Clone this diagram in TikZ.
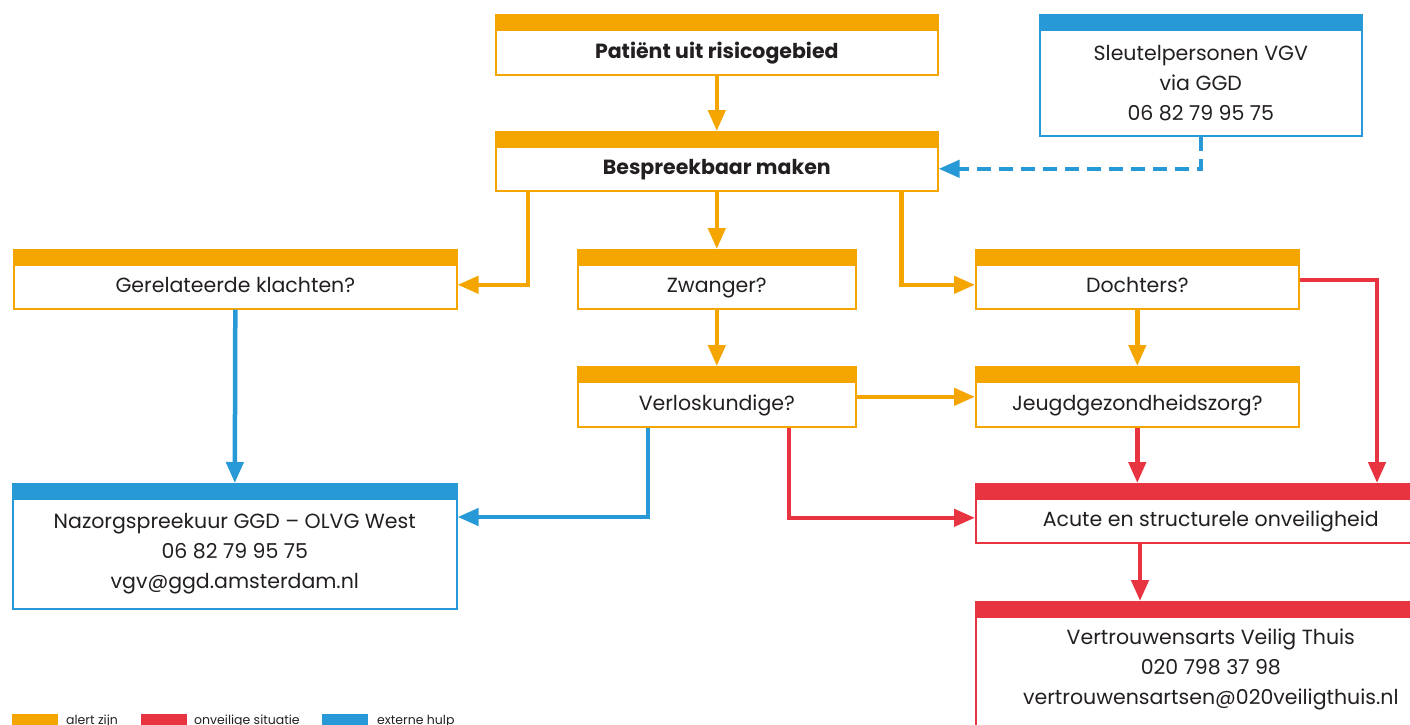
\documentclass[tikz,border=0pt]{standalone}
\usepackage{fontspec}
\setmainfont{Poppins}
\usetikzlibrary{arrows.meta,calc}
\definecolor{cor}{HTML}{F5A500}
\definecolor{cre}{HTML}{E83340}
\definecolor{cbl}{HTML}{2699D6}
\definecolor{ctx}{HTML}{231F20}
\tikzset{
  box/.style={draw=#1, line width=1.6pt, fill=white, anchor=north west, inner sep=0pt,
    font=\fontsize{20.5}{30}\selectfont, text=ctx, align=center},
  oneline/.style={execute at begin node=\strut},
  conn/.style={draw=#1, line width=4.5pt, -{Triangle[width=17pt,length=21pt]}},
  legtxt/.style={anchor=base west, inner sep=0pt, text=ctx, font=\fontsize{12.5}{13}\selectfont}
}
\begin{document}
\begin{tikzpicture}[x=1pt,y=-1pt]
\useasboundingbox (0,0) rectangle (1410,724);
\clip (0,0) rectangle (1410,724);
% boxes
\node[box=cor, oneline, minimum width=442pt, minimum height=45pt, font=\fontsize{20.5}{30}\selectfont\bfseries] (pat) at (495,29) {Patiënt uit risicogebied};
\node[box=cor, oneline, minimum width=442pt, minimum height=44pt, font=\fontsize{20.5}{30}\selectfont\bfseries] (bes) at (495,146) {Bespreekbaar maken};
\node[box=cbl, minimum width=322pt, minimum height=106pt] (sle) at (1039,29) {Sleutelpersonen VGV\\via GGD\\06 82 79 95 75};
\node[box=cor, oneline, minimum width=443pt, minimum height=44pt] (ger) at (13,264) {Gerelateerde klachten?};
\node[box=cor, oneline, minimum width=278pt, minimum height=44pt] (zwa) at (577,264) {Zwanger?};
\node[box=cor, oneline, minimum width=323pt, minimum height=44pt] (doc) at (975,264) {Dochters?};
\node[box=cor, oneline, minimum width=278pt, minimum height=45pt] (ver) at (577,381) {Verloskundige?};
\node[box=cor, oneline, minimum width=323pt, minimum height=45pt] (jeu) at (975,381) {Jeugdgezondheidszorg?};
\node[box=cbl, minimum width=444pt, minimum height=110pt] (naz) at (12,498) {Nazorgspreekuur GGD -- OLVG West\\06 82 79 95 75\\vgv@ggd.amsterdam.nl};
\node[box=cre, oneline, minimum width=470pt, minimum height=44pt] (acu) at (975,498) {Acute en structurele onveiligheid};
\node[box=cre, minimum width=470pt, minimum height=130pt] (vtr) at (975,616) {Vertrouwensarts Veilig Thuis\\020 798 37 98\\vertrouwensartsen@020veiligthuis.nl\\\mbox{}};
% header bands
\foreach \n/\c in {pat/cor,bes/cor,sle/cbl,ger/cor,zwa/cor,doc/cor,ver/cor,jeu/cor,naz/cbl,acu/cre,vtr/cre}
  \fill[\c] (\n.north west) rectangle ([yshift=15pt]\n.north east);
% band-top coordinates
\coordinate (besT) at ([yshift=15pt]bes.north);
\coordinate (zwaT) at ([yshift=15pt]zwa.north);
\coordinate (verT) at ([yshift=15pt]ver.north);
\coordinate (jeuT) at ([yshift=15pt]jeu.north);
\coordinate (nazT) at ([yshift=15pt]naz.north);
\coordinate (acuT) at ([yshift=15pt]acu.north);
\coordinate (vtrT) at ([yshift=15pt]vtr.north);
% connectors
\draw[conn=cor] (pat.south) -- (besT);
\draw[conn=cbl, dash pattern=on 14pt off 8pt] (sle.south) |- (bes.east);
\draw[conn=cor] ($(bes.south west)+(33,0)$) |- ($(ger.east)+(0,-2)$);
\draw[conn=cor] (bes.south) -- (zwaT);
\draw[conn=cor] ($(bes.south east)+(-37,0)$) |- ($(doc.west)+(0,-2)$);
\draw[conn=cor] (zwa.south) -- (verT);
\draw[conn=cor] (doc.south) -- (jeuT);
\draw[conn=cor] ($(ver.east)+(0,-7.5)$) -- ($(jeu.west)+(0,-7.5)$);
\draw[conn=cre] ($(doc.east)+(0,-7)$) -| ($(acu.north west)+(402,-15)$);
\draw[conn=cre] (jeu.south) -- (jeu.south |- acuT);
\draw[conn=cbl] ($(ver.south west)+(71,0)$) |- ($(naz.north east)+(0,19)$);
\draw[conn=cre] ($(ver.south west)+(212,0)$) |- ($(acu.west)+(0,-3)$);
\draw[conn=cbl] (ger.south) -- (nazT);
\draw[conn=cre] ($(acu.south west)+(165,0)$) -- ($(vtr.north west)+(165,-15)$);
% legend
\fill[cor] (12,714) rectangle (58,730);
\fill[cre] (141,714) rectangle (187,730);
\fill[cbl] (322,714) rectangle (368,730);
\node[legtxt] (l1) at (66,724) {alert zijn};
\node[legtxt] (l2) at (194,724) {onveilige situatie};
\node[legtxt] (l3) at (377,724) {externe hulp};
\end{tikzpicture}
\end{document}
